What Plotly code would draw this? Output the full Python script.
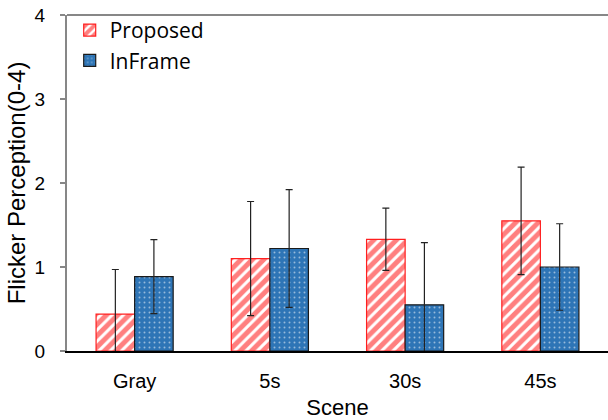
import plotly.graph_objects as go

# Mean flicker ratings per scene with standard deviations
scenes = ["Gray", "5s", "30s", "45s"]
proposed_mean = [0.44, 1.10, 1.33, 1.55]
proposed_sd = [0.53, 0.68, 0.37, 0.64]
inframe_mean = [0.885, 1.22, 0.55, 1.00]
inframe_sd = [0.44, 0.70, 0.74, 0.515]
y_ticks = [0, 1, 2, 3, 4]

fig = go.Figure()

fig.add_trace(go.Bar(
    name="Proposed",
    x=scenes,
    y=proposed_mean,
    error_y=dict(type="data", array=proposed_sd, visible=True,
                 color="#222222", thickness=1.2, width=3.5),
    marker=dict(
        color="white",
        line=dict(color="#FF2020", width=1.2),
        pattern=dict(shape="/", fgcolor="#FF0000", bgcolor="white",
                     size=8, solidity=0.62),
    ),
))

fig.add_trace(go.Bar(
    name="InFrame",
    x=scenes,
    y=inframe_mean,
    error_y=dict(type="data", array=inframe_sd, visible=True,
                 color="#222222", thickness=1.2, width=3.5),
    marker=dict(
        color="#2E75B6",
        line=dict(color="#1a1a1a", width=1.2),
        pattern=dict(shape=".", fgcolor="white", bgcolor="#2E75B6",
                     size=5, solidity=0.12),
    ),
))

axis_font = dict(family="Liberation Sans, Arial, sans-serif", color="black")

fig.update_layout(
    width=608,
    height=420,
    margin=dict(l=67, r=0, t=15, b=69),
    plot_bgcolor="white",
    paper_bgcolor="white",
    barmode="group",
    bargap=0.43,
    bargroupgap=0,
    showlegend=True,
    legend=dict(
        x=0.005, y=1.015, xanchor="left", yanchor="top",
        font=dict(family="Open Sans, sans-serif", size=21, color="black"),
        bgcolor="rgba(0,0,0,0)",
        traceorder="normal",
        tracegroupgap=0,
    ),
    xaxis=dict(
        range=[-0.5, 3.5],
        showline=True, linecolor="black", linewidth=1.5,
        ticks="", showgrid=False,
        tickfont=dict(size=20, **axis_font),
        ticklabelstandoff=11,
        title=dict(text="Scene", font=dict(size=22, **axis_font), standoff=9),
    ),
    yaxis=dict(
        range=[0, 4],
        tickvals=y_ticks,
        showline=True, linecolor="#878787", linewidth=2,
        ticks="outside", ticklen=5, tickcolor="#878787", tickwidth=1.5,
        showgrid=False, zeroline=False,
        tickfont=dict(size=19, **axis_font),
        ticklabelstandoff=11,
        title=dict(text="Flicker Perception(0-4)",
                   font=dict(size=24, **axis_font), standoff=2),
    ),
    shapes=[dict(type="line", xref="paper", yref="paper",
                 x0=0, x1=1, y0=1, y1=1,
                 line=dict(color="#878787", width=2))],
)

fig.write_html("out.html")
